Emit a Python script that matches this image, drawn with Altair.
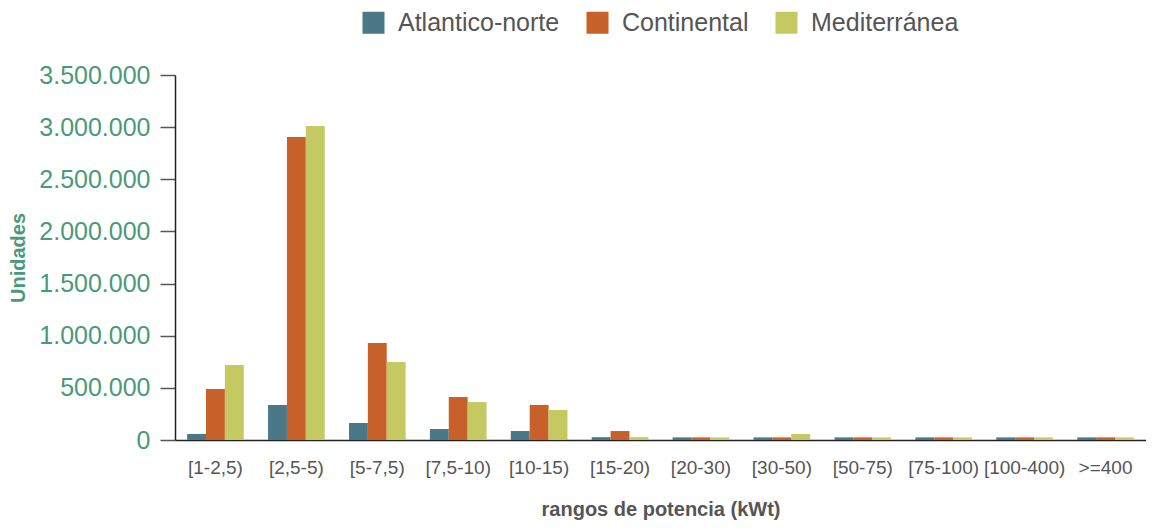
import altair as alt
import pandas as pd

categories = ["[1-2,5)", "[2,5-5)", "[5-7,5)", "[7,5-10)", "[10-15)", "[15-20)",
              "[20-30)", "[30-50)", "[50-75)", "[75-100)", "[100-400)", ">=400"]
series = ["Atlantico-norte", "Continental", "Mediterránea"]
atlantico = [58000, 336000, 163000, 105000, 86000, 27000, 25000, 25000, 25000, 25000, 25000, 25000]
continental = [489000, 2905000, 930000, 412000, 336000, 86000, 25000, 25000, 25000, 25000, 25000, 25000]
mediterranea = [719000, 3010000, 748000, 364000, 288000, 27000, 25000, 58000, 25000, 25000, 25000, 25000]
colors = ["#4a7886", "#c8602a", "#c4c962"]

rows = []
for name, vals in zip(series, [atlantico, continental, mediterranea]):
    for c, v in zip(categories, vals):
        rows.append({"rango": c, "serie": name, "unidades": v})
df = pd.DataFrame(rows)

GREEN = "#4a9a7a"
GRAY = "#555555"
FONT = "Liberation Sans"

chart = alt.Chart(df).mark_bar().encode(
    x=alt.X("rango:N", sort=categories,
            scale=alt.Scale(paddingInner=0.3, paddingOuter=0.15),
            axis=alt.Axis(title="rangos de potencia (kWt)", labelAngle=0, ticks=False,
                          labelFontSize=19, labelColor=GRAY, labelPadding=18,
                          titleFontSize=20, titleFontWeight="bold", titleColor=GRAY,
                          titlePadding=22, domainColor="#222222", domainWidth=1.5,
                          labelFont=FONT, titleFont=FONT)),
    xOffset=alt.XOffset("serie:N", sort=series),
    y=alt.Y("unidades:Q", scale=alt.Scale(domain=[0, 3500000], nice=False),
            axis=alt.Axis(title="Unidades", values=list(range(0, 3500001, 500000)),
                          format=",d", grid=False, tickSize=15, tickColor=GRAY,
                          tickWidth=1.5, domainColor="#222222", domainWidth=1.5,
                          labelFontSize=25, labelColor=GREEN, labelPadding=10,
                          titleFontSize=20, titleFontWeight="bold", titleColor=GREEN,
                          titlePadding=10, labelFont=FONT, titleFont=FONT)),
    color=alt.Color("serie:N", sort=series,
                    scale=alt.Scale(domain=series, range=colors),
                    legend=alt.Legend(title=None, orient="none", direction="horizontal",
                                      legendX=186, legendY=-65, symbolType="square",
                                      symbolSize=484, symbolStrokeWidth=0,
                                      labelFontSize=25, labelColor=GRAY, labelFont=FONT,
                                      labelLimit=400,
                                      labelOffset=12, columnPadding=25, padding=0)),
).properties(
    width=971, height=365,
    autosize=alt.AutoSizeParams(type="none"),
    padding={"left": 167, "top": 67, "right": 0, "bottom": 83},
).configure(
    locale={"number": {"decimal": ",", "thousands": ".", "grouping": [3], "currency": ["", "€"]}},
    view=alt.ViewConfig(stroke="transparent", strokeWidth=0),
)

chart.save("out.html", embed_options={"renderer": "svg", "actions": False})
